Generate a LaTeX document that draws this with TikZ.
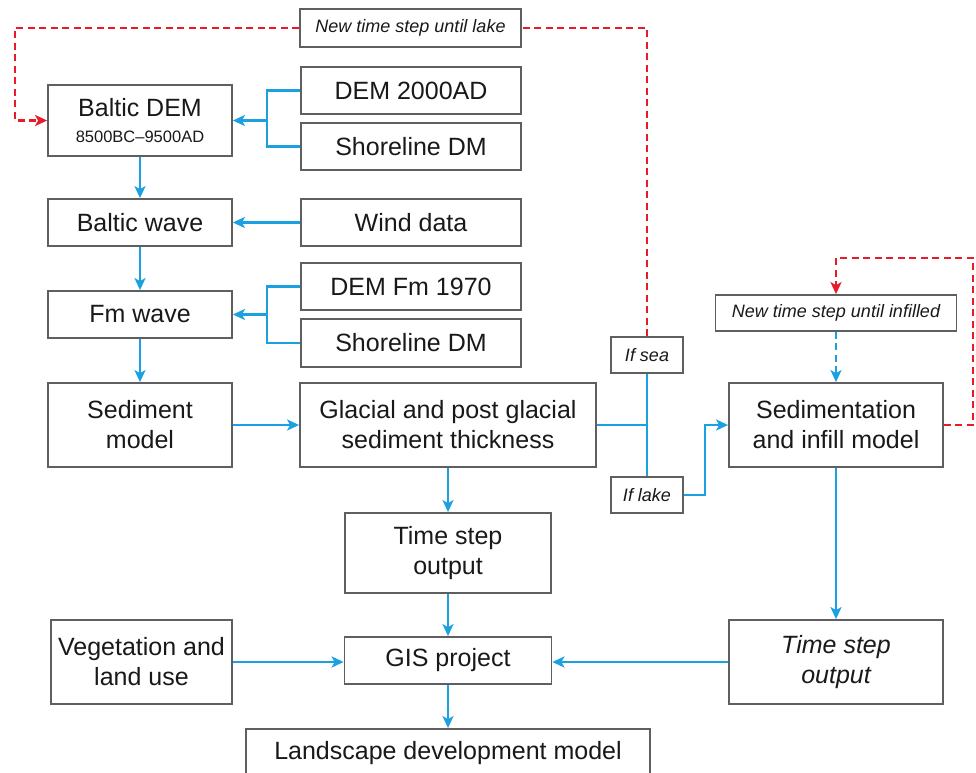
\documentclass[tikz,border=0pt]{standalone}
\usepackage{fontspec}
\setmainfont{Liberation Sans}
\usetikzlibrary{arrows.meta}
\definecolor{cblue}{RGB}{27,161,226}
\definecolor{cred}{RGB}{232,28,40}
\definecolor{cgray}{RGB}{95,95,95}
\definecolor{ctext}{RGB}{25,25,25}
\begin{document}
\begin{tikzpicture}[x=1pt,y=-1pt,
  box/.style={draw=cgray,line width=1.8pt,rectangle,inner sep=0pt,align=center,text=ctext,font=\fontsize{25}{30}\selectfont},
  ibox/.style={box,font=\fontsize{18}{22}\selectfont\itshape},
  conn/.style={draw=cblue,line width=2.4pt},
  arr/.style={conn,-{Stealth[length=12pt,width=11pt,inset=3pt]}},
  rdash/.style={draw=cred,line width=2.5pt,dash pattern=on 7pt off 4.5pt},
  rarr/.style={rdash,-{Stealth[length=12pt,width=11pt,inset=3pt]}},
  bdash/.style={draw=cblue,line width=2.4pt,dash pattern=on 7pt off 4.5pt,-{Stealth[length=12pt,width=11pt,inset=3pt]}}
]
\useasboundingbox (0,0) rectangle (976,772);
\fill[white] (0,0) rectangle (976,772);
\clip (0,0) rectangle (976,772);

% nodes
\node[ibox,minimum width=221pt,minimum height=38pt] (lake) at (410.5,28) {New time step until lake};
\node[box,minimum width=184pt,minimum height=71pt] (bdem) at (140,120.5) {Baltic DEM\\[-4pt]{\fontsize{16.5}{18}\selectfont 8500BC–9500AD}};
\node[box,minimum width=220pt,minimum height=47pt] (dem2000) at (411,90.5) {DEM 2000AD};
\node[box,minimum width=220pt,minimum height=47pt] (shore1) at (411,146.5) {Shoreline DM};
\node[box,minimum width=184pt,minimum height=47pt] (bwave) at (140,222.5) {Baltic wave};
\node[box,minimum width=220pt,minimum height=47pt] (wind) at (411,222.5) {Wind data};
\node[box,minimum width=220pt,minimum height=47pt] (demfm) at (411,286.5) {DEM Fm 1970};
\node[box,minimum width=220pt,minimum height=48pt] (shore2) at (411,343) {Shoreline DM};
\node[box,minimum width=184pt,minimum height=47pt] (fmwave) at (140,314.5) {Fm wave};
\node[box,minimum width=184pt,minimum height=84pt] (sedm) at (140,425) {Sediment\\model};
\node[box,minimum width=296pt,minimum height=84pt] (glac) at (448,425) {Glacial and post glacial\\sediment thickness};
\node[ibox,minimum width=72pt,minimum height=36pt] (ifsea) at (647,355) {If sea};
\node[ibox,minimum width=72pt,minimum height=36pt] (iflake) at (647,495) {If lake};
\node[ibox,minimum width=241pt,minimum height=36pt] (infill) at (836,313) {New time step until infilled};
\node[box,minimum width=214pt,minimum height=84pt] (sedinf) at (836,425) {Sedimentation\\and infill model};
\node[box,minimum width=206pt,minimum height=80pt] (tso) at (448,553) {Time step\\output};
\node[box,minimum width=207pt,minimum height=47pt] (gis) at (448,660.5) {GIS project};
\node[box,minimum width=181pt,minimum height=84pt] (veg) at (141.5,662) {Vegetation and\\land use};
\node[box,minimum width=214pt,minimum height=84pt,font=\fontsize{25}{30}\selectfont\itshape] (tsoi) at (836,662) {Time step\\output};
\node[box,minimum width=404pt,minimum height=49pt] (land) at (448,753.5) {Landscape development model};

% coordinates
\coordinate (j1) at (267,120.5);
\coordinate (j2) at (267,314.5);
\coordinate (j3) at (647,425);
\coordinate (rl) at (15,28);
\coordinate (rr) at (973,258);

% blue connectors
\draw[conn] (dem2000.west) -| (j1);
\draw[conn] (shore1.west) -| (j1);
\draw[arr] (j1) -- (bdem.east);
\draw[arr] (bdem) -- (bwave);
\draw[arr] (wind) -- (bwave);
\draw[arr] (bwave) -- (fmwave);
\draw[conn] (demfm.west) -| (j2);
\draw[conn] (shore2.west) -| (j2);
\draw[arr] (j2) -- (fmwave.east);
\draw[arr] (fmwave) -- (sedm);
\draw[arr] (sedm) -- (glac);
\draw[conn] (glac.east) -- (j3);
\draw[conn] (ifsea.south) -- (iflake.north);
\draw[arr] (iflake.east) -- ++(21,0) |- (sedinf.west);
\draw[arr] (glac) -- (tso);
\draw[arr] (tso) -- (gis);
\draw[arr] (gis) -- (land);
\draw[arr] (veg.east) -- (veg.east -| gis.west);
\draw[arr] (tsoi.west) -- (tsoi.west -| gis.east);
\draw[arr] (sedinf) -- (tsoi);
\draw[bdash] (infill.south) -- (sedinf.north);

% red dashed loops
\draw[rdash] (ifsea.north) |- (lake.east);
\draw[rarr] (lake.west) -- (rl) |- (bdem.west);
\draw[rarr] (sedinf.east) -| (rr) -| (infill.north);
\end{tikzpicture}
\end{document}
